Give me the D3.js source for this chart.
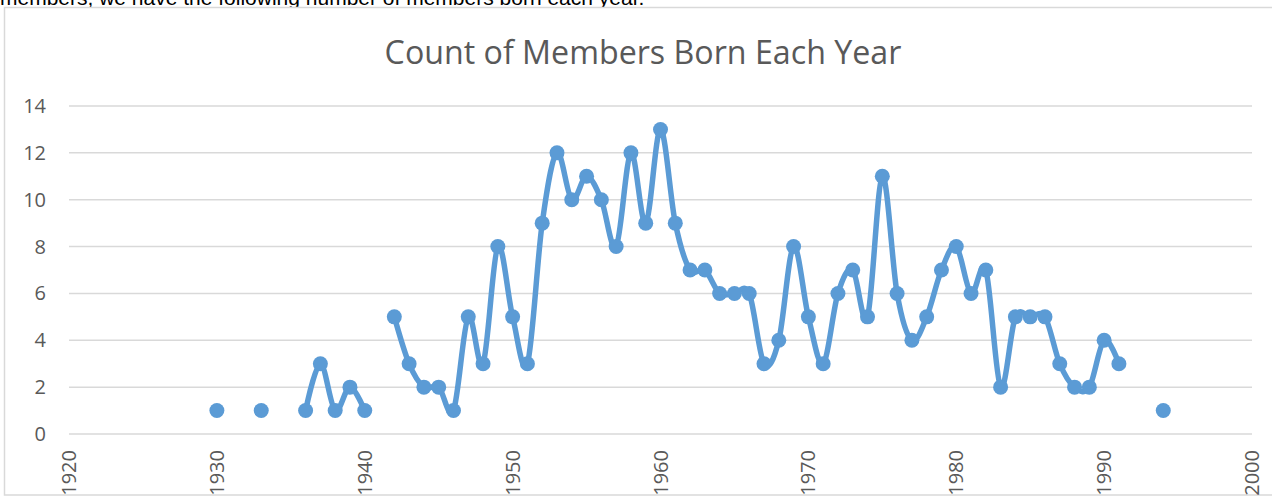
<!DOCTYPE html>
<html>
<head>
<meta charset="utf-8">
<script src="https://cdn.jsdelivr.net/npm/d3@7"></script>
<style>
  body { margin: 0; background: #fff; }
  text { font-family: "Open Sans", "Noto Sans", sans-serif; }
</style>
</head>
<body>
<script>
// birth years present in the data and how many members per year
var years  = [1930, 1933, 1936, 1937, 1938, 1939, 1940, 1942, 1943, 1944, 1945, 1946, 1947, 1948, 1949,
              1950, 1951, 1952, 1953, 1954, 1955, 1956, 1957, 1958, 1959, 1960, 1961, 1962, 1963, 1964,
              1965, 1966, 1967, 1968, 1969, 1970, 1971, 1972, 1973, 1974, 1975, 1976, 1977, 1978, 1979,
              1980, 1981, 1982, 1983, 1984, 1985, 1986, 1987, 1988, 1989, 1990, 1991, 1994];
var counts = [1, 1, 1, 3, 1, 2, 1, 5, 3, 2, 2, 1, 5, 3, 8,
              5, 3, 9, 12, 10, 11, 10, 8, 12, 9, 13, 9, 7, 7, 6,
              6, 6, 3, 4, 8, 5, 3, 6, 7, 5, 11, 6, 4, 5, 7,
              8, 6, 7, 2, 5, 5, 5, 3, 2, 2, 4, 3, 1];
var xTicks = [1920, 1930, 1940, 1950, 1960, 1970, 1980, 1990, 2000];
var yTicks = [0, 2, 4, 6, 8, 10, 12, 14];

var w = 1272, h = 496;
var svg = d3.select('body').append('svg')
    .attr('width', w)
    .attr('height', h);

// sentence from the document above the chart, cut off at the top
svg.append('text')
    .attr('x', 0)
    .attr('y', 5)
    .attr('font-size', '21px')
    .attr('fill', '#000')
    .style('font-family', 'Liberation Sans, Arial, sans-serif')
    .text('members, we have the following number of members born each year.');

// chart frame
svg.append('rect')
    .attr('x', 4.5).attr('y', 7.5)
    .attr('width', 1280).attr('height', 487.5)
    .attr('fill', '#fff')
    .attr('stroke', '#d9d9d9')
    .attr('stroke-width', 1.5);

var x = d3.scaleLinear().domain([1920, 2000]).range([69, 1252]);
var y = d3.scaleLinear().domain([0, 14]).range([434, 106]);

// gridlines
svg.selectAll('line.grid')
    .data(yTicks)
    .enter()
    .append('line')
    .attr('class', 'grid')
    .attr('x1', x(1920)).attr('x2', x(2000))
    .attr('y1', function(d){ return y(d); })
    .attr('y2', function(d){ return y(d); })
    .attr('stroke', '#d9d9d9')
    .attr('stroke-width', 1.5);

// y labels
svg.selectAll('text.ylab')
    .data(yTicks)
    .enter()
    .append('text')
    .attr('class', 'ylab')
    .attr('x', 46)
    .attr('y', function(d){ return y(d) + 7; })
    .attr('text-anchor', 'end')
    .attr('font-size', '20px')
    .attr('fill', '#595959')
    .text(function(d){ return d; });

// x labels, rotated
svg.selectAll('text.xlab')
    .data(xTicks)
    .enter()
    .append('text')
    .attr('class', 'xlab')
    .attr('transform', function(d){ return 'translate(' + (x(d) + 7) + ',' + 450 + ') rotate(-90)'; })
    .attr('text-anchor', 'end')
    .attr('font-size', '20px')
    .attr('fill', '#595959')
    .text(function(d){ return d; });

// title
var title = svg.append('text')
    .attr('x', 643)
    .attr('y', 64)
    .attr('text-anchor', 'middle')
    .attr('font-size', '28px')
    .attr('fill', '#595959')
    .text('Count of Members Born Each Year');
var tw = title.node().getComputedTextLength();
title.attr('font-size', (28 * 517 / tw) + 'px');

// split into runs of consecutive years (line breaks where a year is missing)
var pts = years.map(function(yr, i){ return {year: yr, count: counts[i]}; });
var runs = [];
pts.forEach(function(p, i){
  if (i > 0 && p.year - pts[i-1].year === 1) runs[runs.length-1].push(p);
  else runs.push([p]);
});

var line = d3.line()
    .x(function(d){ return x(d.year); })
    .y(function(d){ return y(d.count); })
    .curve(d3.curveCatmullRom.alpha(0));

svg.selectAll('path.series')
    .data(runs.filter(function(r){ return r.length > 1; }))
    .enter()
    .append('path')
    .attr('class', 'series')
    .attr('d', line)
    .attr('fill', 'none')
    .attr('stroke', '#5b9bd5')
    .attr('stroke-width', 5.5)
    .attr('stroke-linejoin', 'round')
    .attr('stroke-linecap', 'round');

svg.selectAll('circle')
    .data(pts)
    .enter()
    .append('circle')
    .attr('cx', function(d){ return x(d.year); })
    .attr('cy', function(d){ return y(d.count); })
    .attr('r', 7.5)
    .attr('fill', '#5b9bd5');
</script>
</body>
</html>
